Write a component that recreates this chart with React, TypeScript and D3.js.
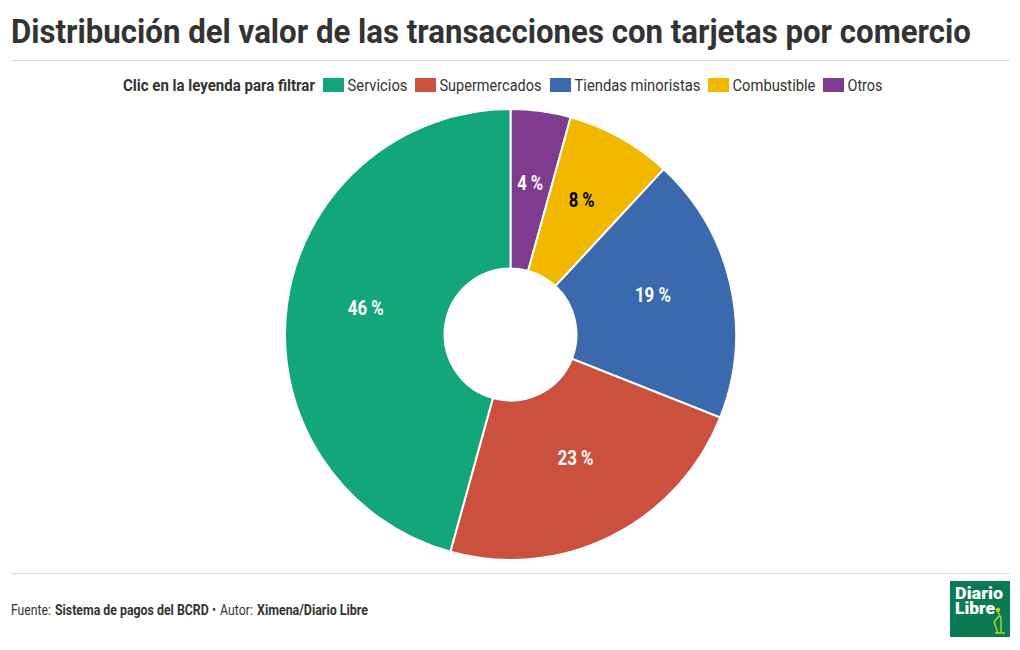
import { arc, pie, scaleOrdinal } from "d3";

const categories = ["Otros", "Combustible", "Tiendas minoristas", "Supermercados", "Servicios"];
const values = [4.3, 7.6, 19.1, 23.3, 45.7];
const labels = ["4 %", "8 %", "19 %", "23 %", "46 %"];
const colors = ["#7f3b8e", "#f2b800", "#3a69ae", "#cb503d", "#12a67a"];
const labelColors = ["#ffffff", "#000000", "#ffffff", "#ffffff", "#ffffff"];
const legendOrder = ["Servicios", "Supermercados", "Tiendas minoristas", "Combustible", "Otros"];
const legendX = [323, 415, 550, 708, 823];
const legendWidths = [60, 102, 126, 83, 35];

const FONT = "Roboto";
const TEXT = "#333333";
const color = scaleOrdinal<string, string>().domain(categories).range(colors);

const ctx = document.createElement("canvas").getContext("2d")!;

// no Roboto Condensed here, so squeeze plain Roboto to the measured width
function Squeezed({ x, y, w, size, weight = 400, fill = TEXT, anchor = "start", children }: any) {
  ctx.font = `${weight} ${size}px ${FONT}`;
  const k = w / ctx.measureText(children).width;
  return (
    <text
      transform={`translate(${x},${y}) scale(${k},1)`}
      fontSize={size}
      fontWeight={weight}
      fill={fill}
      textAnchor={anchor}
    >
      {children}
    </text>
  );
}

export default function App() {
  const cx = 510.5;
  const cy = 334.5;
  const slices = pie<number>().sort(null)(values);
  const slice = arc<any>().innerRadius(66).outerRadius(225.5);
  const labelArc = arc<any>().innerRadius(67).outerRadius(225);

  return (
    <svg
      width={1020}
      height={650}
      viewBox="0 0 1020 650"
      style={{ position: "absolute", left: 0, top: 0, background: "#fff" }}
      fontFamily={FONT}
    >
      <Squeezed x={11} y={43} w={960} size={34} weight={700}>
        Distribución del valor de las transacciones con tarjetas por comercio
      </Squeezed>
      <line x1={11} x2={1010} y1={60.5} y2={60.5} stroke="#dddddd" />

      <Squeezed x={123} y={91} w={192} size={16.5} weight={700}>
        Clic en la leyenda para filtrar
      </Squeezed>
      {legendOrder.map((name, i) => (
        <g key={name}>
          <rect x={legendX[i]} y={78} width={21} height={14} fill={color(name)} />
          <Squeezed x={legendX[i] + 24.5} y={91} w={legendWidths[i]} size={17}>
            {name}
          </Squeezed>
        </g>
      ))}

      <g transform={`translate(${cx},${cy})`}>
        {slices.map((d, i) => (
          <path key={categories[i]} d={slice(d) ?? ""} fill={colors[i]} stroke="#fff" strokeWidth={2} />
        ))}
        {slices.map((d, i) => {
          const [x, y] = labelArc.centroid(d);
          return (
            <Squeezed
              key={labels[i]}
              x={x}
              y={y}
              w={labels[i].length === 3 ? 26 : 36}
              size={21}
              weight={700}
              fill={labelColors[i]}
              anchor="middle"
            >
              {labels[i]}
            </Squeezed>
          );
        })}
      </g>

      <line x1={11} x2={1010} y1={573.5} y2={573.5} stroke="#dddddd" />

      <Squeezed x={11} y={615} w={40} size={15}>Fuente:</Squeezed>
      <Squeezed x={55} y={615} w={154} size={15} weight={700}>Sistema de pagos del BCRD</Squeezed>
      <Squeezed x={212} y={615} w={4} size={15}>•</Squeezed>
      <Squeezed x={220} y={615} w={33} size={15}>Autor:</Squeezed>
      <Squeezed x={257} y={615} w={111} size={15} weight={700}>Ximena/Diario Libre</Squeezed>

      <g>
        <rect x={950} y={581} width={60} height={56} fill="#0a7a50" />
        <Squeezed x={955} y={598.5} w={48} size={16} weight={900} fill="#fff">Diario</Squeezed>
        <Squeezed x={955} y={614} w={40} size={16} weight={900} fill="#fff">Libre</Squeezed>
        <g stroke="#b5d334" strokeWidth={1.4} fill="none">
          <circle cx={998} cy={610} r={1.5} fill="#b5d334" />
          <path d="M998 612 L1001 618 L1001 632 M995 633 L1005 633 M994 622 L999 616 M994 622 L997 630 L997 633" />
        </g>
      </g>
    </svg>
  );
}
